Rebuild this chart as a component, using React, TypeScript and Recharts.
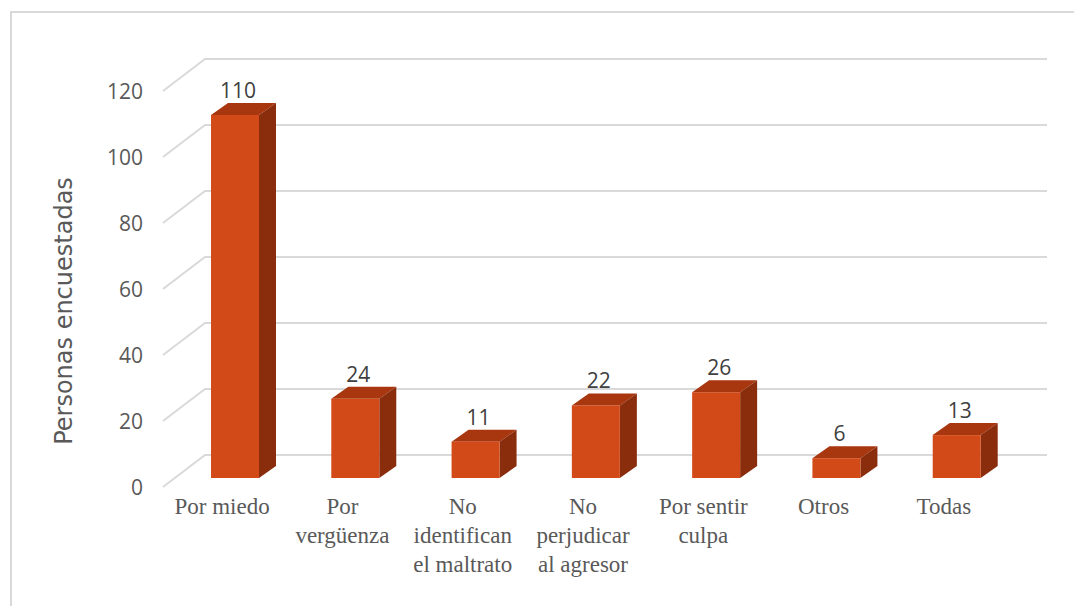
import { BarChart, Bar, XAxis, YAxis, CartesianGrid, LabelList } from "recharts";

const categories = [
  "Por miedo",
  "Por\nvergüenza",
  "No\nidentifican\nel maltrato",
  "No\nperjudicar\nal agresor",
  "Por sentir\nculpa",
  "Otros",
  "Todas",
];
const personas = [110, 24, 11, 22, 26, 6, 13];
const yTicks = [0, 20, 40, 60, 80, 100, 120];

const data = categories.map((c, i) => ({ name: c, value: personas[i] }));

// 3d depth offsets (Excel style)
const DX = 17;
const DY = 12;
const FRONT = "#D34A19";
const TOP = "#A8360F";
const SIDE = "#8A2D0D";
const TEXT = "#595959";
const SERIF = "'Liberation Serif', 'Times New Roman', serif";

function Box3D(props: any) {
  const { x, y, width: w, height: h } = props;
  if (h == null || h <= 0) return null;
  return (
    <g>
      <polygon
        points={`${x},${y} ${x + DX},${y - DY} ${x + w + DX},${y - DY} ${x + w},${y}`}
        fill={TOP}
      />
      <polygon
        points={`${x + w},${y} ${x + w + DX},${y - DY} ${x + w + DX},${y + h - DY} ${x + w},${y + h}`}
        fill={SIDE}
      />
      <rect x={x} y={y} width={w} height={h} fill={FRONT} />
    </g>
  );
}

// gridline = floor diagonal + back wall line
function GridLine(props: any) {
  const { x1, x2, y1, index } = props;
  return (
    <path
      key={"g" + index}
      d={`M${x1 - 12},${y1 + 9} L${x1 + 30},${y1 - 23} L${x2 + 30},${y1 - 23}`}
      stroke="#D9D9D9"
      strokeWidth={2}
      fill="none"
    />
  );
}

function CatTick(props: any) {
  const { x, y, payload } = props;
  const lines = String(payload.value).split("\n");
  return (
    <g>
      {lines.map((l, i) => (
        <text
          key={i}
          x={x - 13}
          y={y + 28 + i * 29}
          textAnchor="middle"
          fill={TEXT}
          style={{ fontFamily: SERIF, fontSize: 23 }}
        >
          {l}
        </text>
      ))}
    </g>
  );
}

function ValueTick(props: any) {
  const { x, y, payload } = props;
  return (
    <text
      x={x - 24}
      y={y + 9}
      textAnchor="end"
      dominantBaseline="central"
      fill={TEXT}
      fontFamily="'Open Sans', sans-serif"
      fontSize={21}
    >
      {payload.value}
    </text>
  );
}

function ValueLabel(props: any) {
  const { x, y, width, value } = props;
  return (
    <text
      x={x + width / 2 + 3}
      y={y - 17}
      textAnchor="middle"
      fill="#404040"
      fontFamily="'Open Sans', sans-serif"
      fontSize={21}
    >
      {value}
    </text>
  );
}

function AxisTitle(props: any) {
  const { viewBox } = props;
  const cx = 64;
  const cy = viewBox.y + viewBox.height / 2 + 31;
  return (
    <text
      x={cx}
      y={cy}
      transform={`rotate(-90, ${cx}, ${cy})`}
      textAnchor="middle"
      dominantBaseline="central"
      fill={TEXT}
      fontFamily="'DejaVu Sans', sans-serif"
      fontSize={24}
    >
      Personas encuestadas
    </text>
  );
}

export default function App() {
  return (
    <div
      style={{
        position: "absolute",
        left: 0,
        top: 0,
        width: 1074,
        height: 606,
        background: "#fff",
        overflow: "hidden",
      }}
    >
      <div
        style={{
          position: "absolute",
          left: 10,
          top: 11,
          width: 1100,
          height: 700,
          border: "2px solid #D9D9D9",
        }}
      />
      <div style={{ position: "absolute", left: 0, top: 0 }}>
        <BarChart
          width={1074}
          height={606}
          data={data}
          margin={{ top: 82, right: 57, bottom: 28, left: 0 }}
        >
          <CartesianGrid vertical={false} horizontal={GridLine as any} />
          <YAxis
            domain={[0, 120]}
            ticks={yTicks}
            width={175}
            axisLine={false}
            tickLine={false}
            tick={<ValueTick />}
            label={<AxisTitle />}
          />
          <XAxis
            dataKey="name"
            height={100}
            axisLine={false}
            tickLine={false}
            interval={0}
            tick={<CatTick />}
          />
          <Bar
            dataKey="value"
            barSize={48}
            shape={<Box3D />}
            isAnimationActive={false}
          >
            <LabelList dataKey="value" content={<ValueLabel />} />
          </Bar>
        </BarChart>
      </div>
    </div>
  );
}
